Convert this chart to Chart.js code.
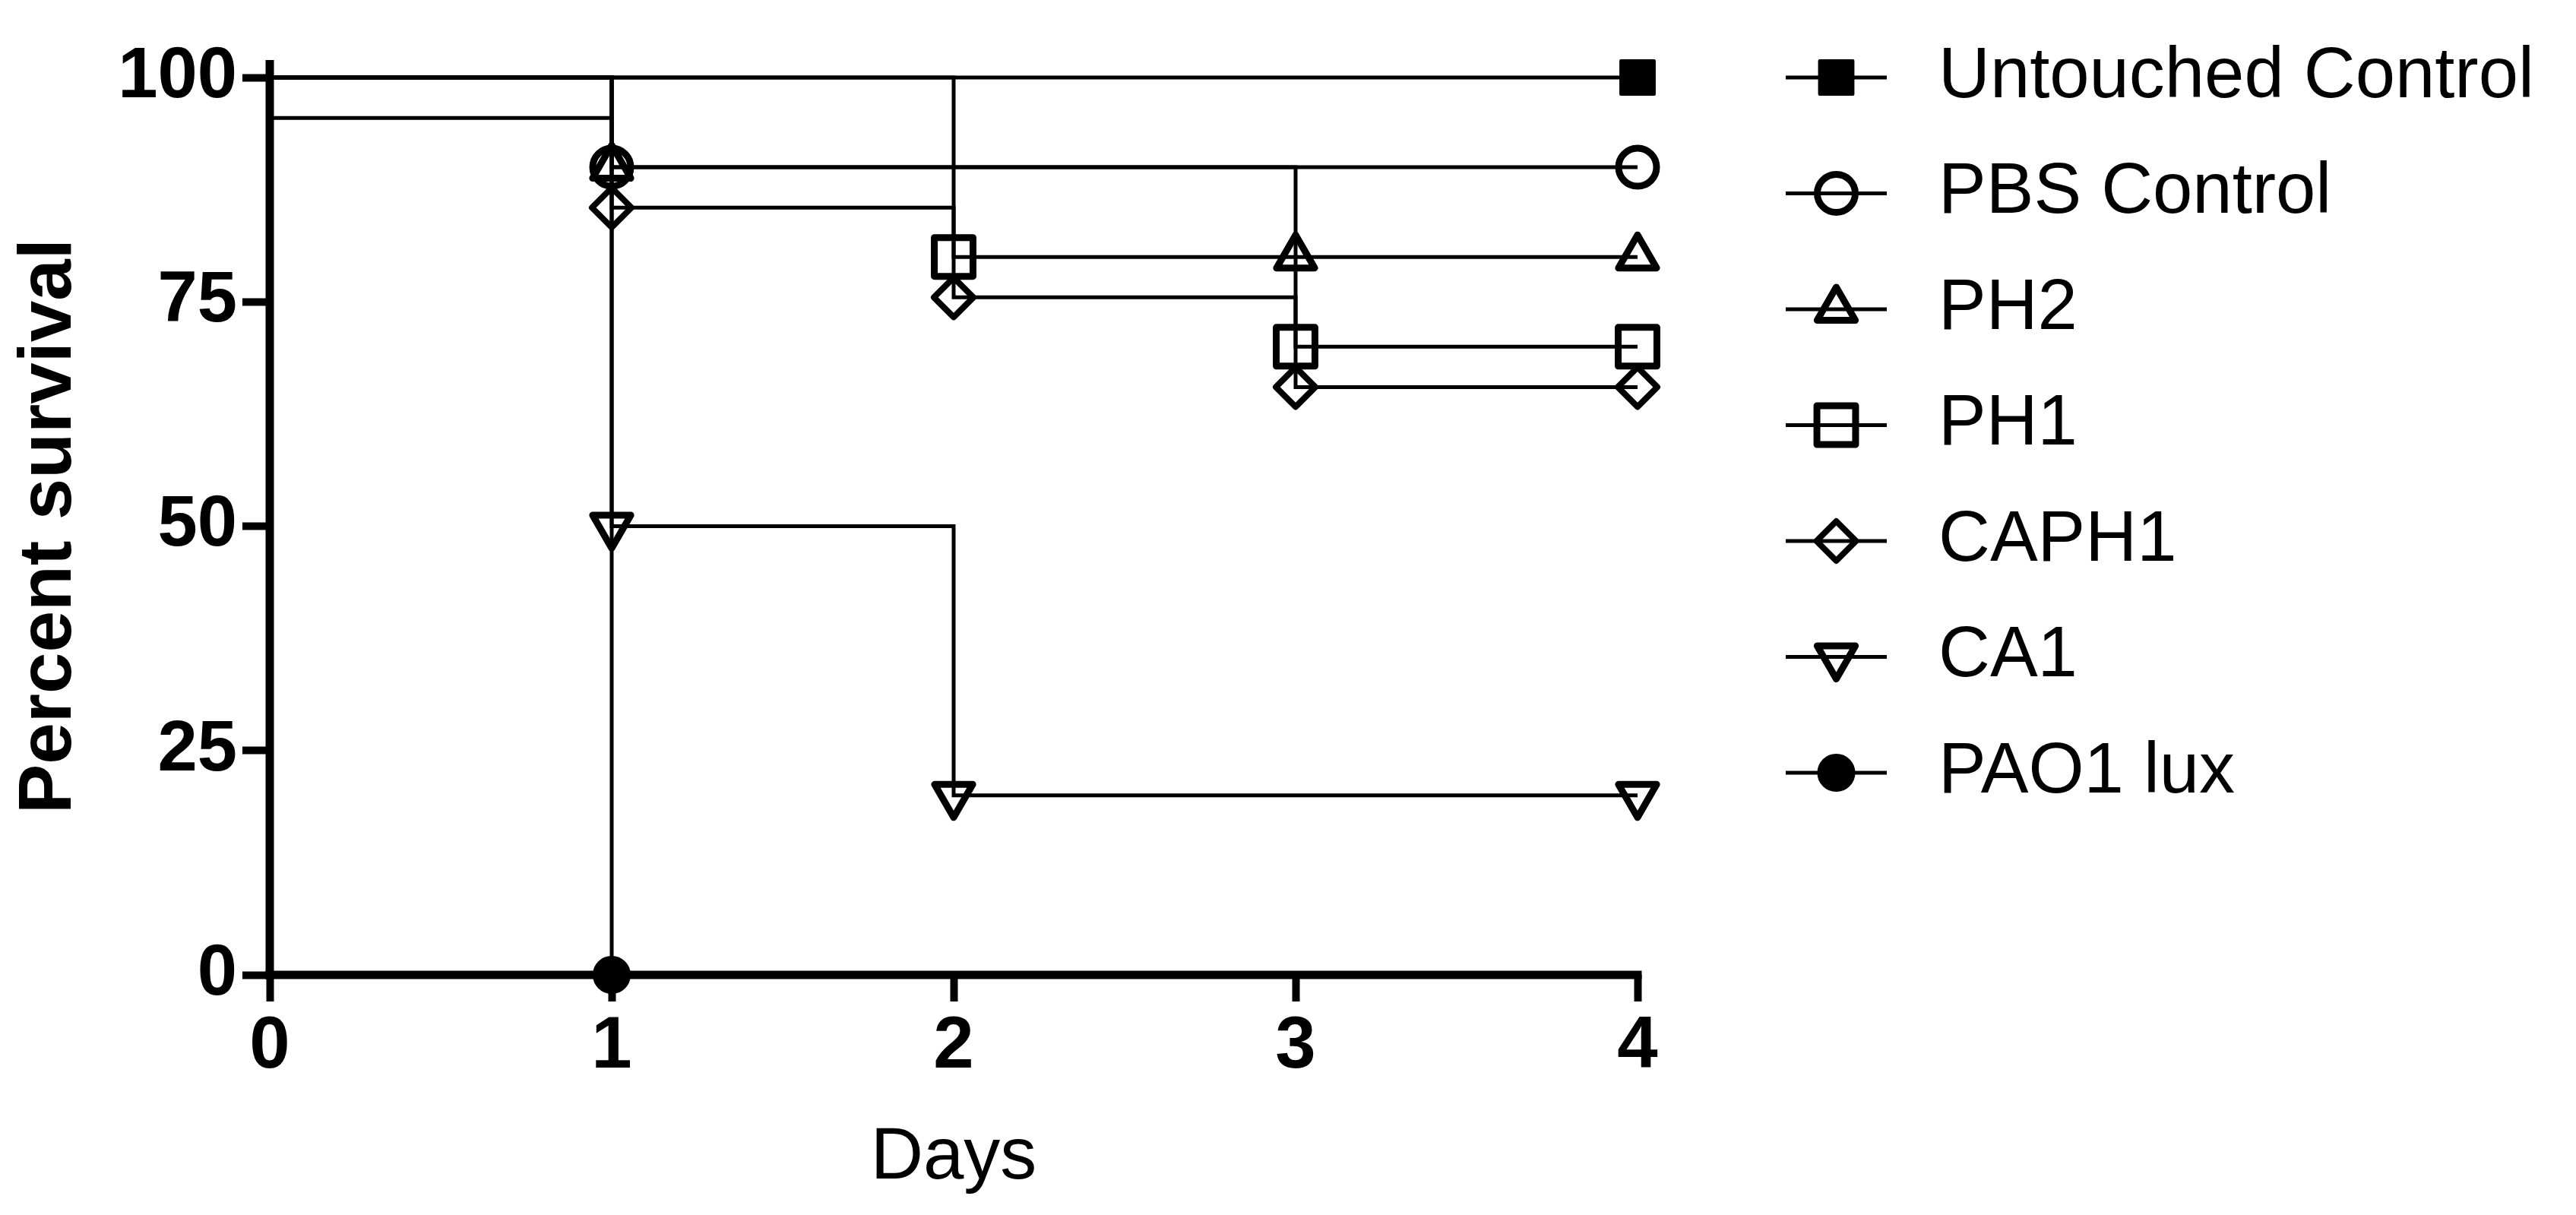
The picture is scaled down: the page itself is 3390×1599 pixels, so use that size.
<!DOCTYPE html>
<html>
<head>
<meta charset="utf-8">
<script src="https://cdn.jsdelivr.net/npm/chart.js@4.4.1/dist/chart.umd.min.js"></script>
<style>
    html, body { margin: 0; padding: 0; background: #fff; }
    #wrap { width: 3390px; height: 1599px; position: relative; }
</style>
</head>
<body>
<div id="wrap"><canvas id="survivalChart"></canvas></div>
<script>
// ===== data (percent survival, Kaplan-Meier steps) =====
const dayTicks = [0, 1, 2, 3, 4];
const survivalTicks = [0, 25, 50, 75, 100];

const untouchedDays = [0, 4];
const untouchedSurvival = [100, 100];
const pbsDays = [0, 1, 4];
const pbsSurvival = [100, 90, 90];
const ph2Days = [0, 1, 3, 4];
const ph2Survival = [100, 90, 80, 80];
const ph1Days = [0, 2, 3, 4];
const ph1Survival = [100, 80, 70, 70];
const caph1Days = [0, 1, 2, 3, 4];
const caph1Survival = [95.5, 85.5, 75.5, 65.5, 65.5];
const ca1Days = [0, 1, 2, 4];
const ca1Survival = [100, 50, 20, 20];
const pao1Days = [0, 1];
const pao1Survival = [100, 0];

const FONT = "'Liberation Sans', Arial, Helvetica, sans-serif";

const toPoints = (xs, ys) => xs.map((x, i) => ({ x, y: ys[i] }));

// Prism style: black step line, marker at every event (none at day 0)
function series(label, xs, ys, marker) {
    return {
        label,
        data: toPoints(xs, ys),
        stepped: 'before',
        borderColor: '#000',
        borderWidth: 5,
        clip: false,
        markerRadius: marker.radius,
        pointStyle: marker.shape,
        pointRotation: marker.rotation || 0,
        pointRadius: (ctx) => ctx.dataIndex === 0 ? 0 : marker.radius,
        pointBorderWidth: marker.border,
        pointBorderColor: '#000',
        pointBackgroundColor: marker.filled ? '#000' : 'rgba(0,0,0,0)',
    };
}

const datasets = [
    series('Untouched Control', untouchedDays, untouchedSurvival, { shape: 'rect', radius: 31, border: 4, filled: true }),
    series('PBS Control', pbsDays, pbsSurvival, { shape: 'circle', radius: 25, border: 9 }),
    series('PH2', ph2Days, ph2Survival, { shape: 'triangle', radius: 29, border: 9 }),
    series('PH1', ph1Days, ph1Survival, { shape: 'rect', radius: 36, border: 9 }),
    series('CAPH1', caph1Days, caph1Survival, { shape: 'rectRot', radius: 26, border: 8 }),
    series('CA1', ca1Days, ca1Survival, { shape: 'triangle', rotation: 180, radius: 29, border: 9 }),
    series('PAO1 lux', pao1Days, pao1Survival, { shape: 'circle', radius: 23, border: 4, filled: true }),
];

// thick axis lines, y axis runs a little past 100
const axisLines = {
    id: 'axisLines',
    beforeDatasetsDraw(chart) {
        const { ctx, scales: { x, y } } = chart;
        const xl = x.getPixelForValue(dayTicks[0]);
        const xr = x.getPixelForValue(dayTicks[dayTicks.length - 1]);
        const yb = y.getPixelForValue(survivalTicks[0]);
        const yt = y.getPixelForValue(survivalTicks[survivalTicks.length - 1]);
        ctx.save();
        ctx.strokeStyle = '#000';
        ctx.lineWidth = 11;
        ctx.beginPath();
        ctx.moveTo(xl, yb + 5.5);
        ctx.lineTo(xl, yt - 23);
        ctx.stroke();
        ctx.beginPath();
        ctx.moveTo(xl - 5.5, yb);
        ctx.lineTo(xr + 5.5, yb);
        ctx.stroke();
        ctx.restore();
        // markers get rounded corners (lines set their own join)
        ctx.lineJoin = 'round';
    }
};

// legend on the right: line with marker, then label
const sideLegend = {
    id: 'sideLegend',
    afterDraw(chart) {
        const { ctx, chartArea } = chart;
        const lineStart = chartArea.right + 195;
        const lineEnd = chartArea.right + 328;
        const textX = chartArea.right + 396;
        chart.data.datasets.forEach((ds, i) => {
            const yy = chartArea.top + i * 152.5;
            ctx.save();
            ctx.strokeStyle = '#000';
            ctx.lineWidth = 5;
            ctx.beginPath();
            ctx.moveTo(lineStart, yy);
            ctx.lineTo(lineEnd, yy);
            ctx.stroke();

            ctx.lineJoin = 'round';
            ctx.lineWidth = ds.pointBorderWidth;
            ctx.fillStyle = ds.pointBackgroundColor;
            Chart.helpers.drawPoint(ctx, {
                pointStyle: ds.pointStyle,
                rotation: ds.pointRotation,
                radius: ds.markerRadius,
                borderWidth: ds.pointBorderWidth
            }, (lineStart + lineEnd) / 2, yy);

            ctx.fillStyle = '#000';
            ctx.font = `94px ${FONT}`;
            ctx.textAlign = 'left';
            ctx.textBaseline = 'middle';
            ctx.fillText(ds.label, textX, yy);
            ctx.restore();
        });
    }
};

new Chart(document.getElementById('survivalChart'), {
    type: 'line',
    data: { datasets },
    options: {
        responsive: true,
        maintainAspectRatio: false,
        animation: false,
        events: [],
        layout: { padding: { left: 0, top: 102, right: 1235, bottom: 0 } },
        scales: {
            x: {
                type: 'linear',
                min: dayTicks[0],
                max: dayTicks[dayTicks.length - 1],
                afterBuildTicks: (s) => { s.ticks = dayTicks.map(v => ({ value: v })); },
                afterFit: (s) => { s.height = 316; },
                border: { display: false },
                grid: { drawOnChartArea: false, drawTicks: true, tickLength: 35, tickWidth: 10, tickColor: '#000' },
                ticks: { color: '#000', padding: 3, maxRotation: 0, font: { family: FONT, size: 96, weight: 'bold' } },
                title: { display: true, text: 'Days', color: '#000', padding: { bottom: 17 }, font: { family: FONT, size: 96 } }
            },
            y: {
                type: 'linear',
                min: survivalTicks[0],
                max: survivalTicks[survivalTicks.length - 1],
                afterBuildTicks: (s) => { s.ticks = survivalTicks.map(v => ({ value: v })); },
                afterFit: (s) => { s.width = 355; },
                border: { display: false },
                grid: { drawOnChartArea: false, drawTicks: true, tickLength: 36, tickWidth: 10, tickColor: '#000' },
                ticks: { color: '#000', padding: 7, font: { family: FONT, size: 94, weight: 'bold' } },
                title: { display: true, text: 'Percent survival', color: '#000', padding: { top: 7 }, font: { family: FONT, size: 98, weight: 'bold' } }
            }
        },
        plugins: {
            legend: { display: false },
            tooltip: { enabled: false }
        }
    },
    plugins: [axisLines, sideLegend]
});
</script>
</body>
</html>
